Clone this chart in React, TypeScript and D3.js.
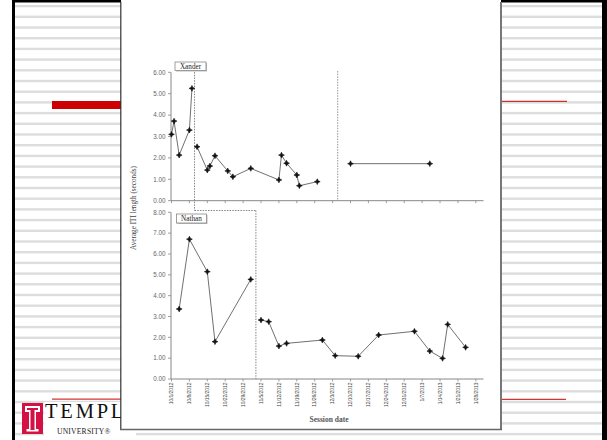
import React from "react";
import * as d3 from "d3";

const tickLabels = ["10/1/2012","10/8/2012","10/15/2012","10/22/2012","10/29/2012","11/5/2012","11/12/2012","11/19/2012","11/26/2012","12/3/2012","12/10/2012","12/17/2012","12/24/2012","12/31/2012","1/7/2013","1/14/2013","1/21/2013","1/28/2013"];

const xanderBaselineDates = ["10/1/2012","10/2/2012","10/4/2012","10/8/2012","10/9/2012"];
const xanderBaselineValues = [3.10,3.72,2.13,3.30,5.25];
const xanderInterventionDates = ["10/11/2012","10/15/2012","10/16/2012","10/18/2012","10/23/2012","10/25/2012","11/1/2012","11/12/2012","11/13/2012","11/15/2012","11/19/2012","11/20/2012","11/27/2012"];
const xanderInterventionValues = [2.52,1.43,1.62,2.10,1.39,1.12,1.51,0.97,2.13,1.75,1.20,0.70,0.89];
const xanderFollowupDates = ["12/10/2012","1/10/2013"];
const xanderFollowupValues = [1.73,1.73];

const nathanBaselineDates = ["10/4/2012","10/8/2012","10/15/2012","10/18/2012","11/1/2012"];
const nathanBaselineValues = [3.36,6.71,5.15,1.79,4.78];
const nathanInterventionDates = ["11/5/2012","11/8/2012","11/12/2012","11/15/2012","11/29/2012","12/4/2012","12/13/2012","12/21/2012","1/4/2013","1/10/2013","1/15/2013","1/17/2013","1/24/2013"];
const nathanInterventionValues = [2.83,2.75,1.58,1.71,1.87,1.12,1.09,2.11,2.29,1.34,0.99,2.62,1.52];

const xanderPhaseDates = ["10/10/2012","12/5/2012"];
const nathanPhaseDates = ["11/3/2012"];

const topTicks = [0,1,2,3,4,5,6];
const botTicks = [0,1,2,3,4,5,6,7,8];

const parse = d3.timeParse("%m/%d/%Y");
const fmt = d3.format(".2f");

const x = d3.scaleTime().domain([parse("10/1/2012")!, parse("1/31/2013")!]).range([171.5, 483.5]);
const yTop = d3.scaleLinear().domain([0, 6]).range([200.7, 72.3]);
const yBot = d3.scaleLinear().domain([0, 8]).range([379, 212.3]);

const star = (() => {
  const pts: [number, number][] = [];
  for (let i = 0; i < 8; i++) {
    const a = (Math.PI / 4) * i - Math.PI / 2;
    const r = i % 2 === 0 ? 2.9 : 1.3;
    pts.push([Math.cos(a) * r, Math.sin(a) * r]);
  }
  return "M" + pts.map((p) => p.join(",")).join("L") + "Z";
})();

function Series({ dates, values, y }: { dates: string[]; values: number[]; y: d3.ScaleLinear<number, number> }) {
  const pts = dates.map((d, i) => [x(parse(d)!), y(values[i])] as [number, number]);
  const line = d3.line();
  return (
    <g>
      <path d={line(pts) || ""} fill="none" stroke="#606060" strokeWidth={0.9} />
      {pts.map((p, i) => (
        <path key={i} d={star} transform={`translate(${p[0]},${p[1]})`} fill="#111" stroke="#111" strokeWidth={0.6} />
      ))}
    </g>
  );
}

function YAxis({ y, ticks }: { y: d3.ScaleLinear<number, number>; ticks: number[] }) {
  const [r0, r1] = y.range();
  return (
    <g>
      <line x1={171} x2={171} y1={r0} y2={r1} stroke="#888" strokeWidth={1} />
      {ticks.map((t) => (
        <g key={t}>
          <line x1={168} x2={171} y1={y(t)} y2={y(t)} stroke="#888" strokeWidth={0.8} />
          <text x={165.5} y={y(t)} dy="0.35em" textAnchor="end" fontSize={6.3} fill="#666" fontFamily="Liberation Sans, Arial, sans-serif">{fmt(t)}</text>
        </g>
      ))}
    </g>
  );
}

function XAxis({ y0, labels }: { y0: number; labels: boolean }) {
  return (
    <g>
      <line x1={171} x2={483.5} y1={y0} y2={y0} stroke="#888" strokeWidth={1} />
      {tickLabels.map((t) => {
        const xx = x(parse(t)!);
        return (
          <g key={t}>
            <line x1={xx} x2={xx} y1={y0} y2={y0 + 2.5} stroke="#888" strokeWidth={0.8} />
            {labels && (
              <text transform={`translate(${xx},${y0 + 3.5}) rotate(-90)`} dy="0.35em" textAnchor="end" fontSize={4.9} fill="#444" fontFamily="Liberation Sans, Arial, sans-serif">{t}</text>
            )}
          </g>
        );
      })}
    </g>
  );
}

export default function App() {
  const stripes = d3.range(0, 41).map((k) => 6.1 + 10.7 * k);
  const px1 = x(parse(xanderPhaseDates[0])!);
  const px2 = x(parse(xanderPhaseDates[1])!);
  const pn = x(parse(nathanPhaseDates[0])!);
  return (
    <svg width={607} height={440} style={{ position: "absolute", left: 0, top: 0, background: "#fff" }}>
      {/* slide background */}
      <rect x={0} y={0} width={607} height={440} fill="#fff" />
      {stripes.map((s, i) => (
        <rect key={i} x={15} y={s - 1.2} width={587} height={2.4} fill="#dddddd" />
      ))}
      <rect x={12} y={0} width={595} height={2.5} fill="#000" />
      <rect x={12} y={0} width={3} height={440} fill="#000" />
      <rect x={602} y={0} width={5} height={440} fill="#000" />
      {/* red decorations */}
      <rect x={52} y={101} width={70} height={8} fill="#cc0000" />
      <rect x={52} y={398.6} width={70} height={1} fill="#cc0000" />
      <rect x={500} y={100.8} width={67} height={1} fill="#cc0000" />
      <rect x={500} y={398.8} width={66} height={1} fill="#cc0000" />
      {/* logo */}
      <rect x={44} y={402} width={92} height={36} fill="#fff" />
      <rect x={22} y={403} width={21} height={31} fill="#d31145" />
      <path d="M25,406 H40 V412 H36 V429 H38.5 V431.5 H26.5 V429 H29 V412 H25 Z" fill="#fff" />
      <path d="M27,408 H38 V410 H34.5 V430 H30.5 V410 H27 Z" fill="#d31145" />
      <text x={45} y={418} fontSize={20.5} letterSpacing={2.8} fontFamily="Liberation Serif, Times New Roman, serif" fill="#111">TEMPLE</text>
      <text x={57} y={434} fontSize={7.6} fontFamily="Liberation Serif, Times New Roman, serif" fill="#222" letterSpacing={0.2}>UNIVERSITY®</text>
      {/* white panel */}
      <rect x={121} y={0} width={380} height={429} fill="#fff" />
      <line x1={120.8} x2={120.8} y1={2} y2={429.5} stroke="#333" strokeWidth={1.2} />
      <line x1={501} x2={501} y1={2} y2={430} stroke="#777" strokeWidth={2} />
      <line x1={120} x2={502} y1={429.5} y2={429.5} stroke="#666" strokeWidth={1.3} />

      {/* Y title */}
      <text transform="translate(133,208) rotate(-90)" textAnchor="middle" dy="0.35em" fontSize={7.2} fill="#444" fontFamily="Liberation Serif, Times New Roman, serif">Average ITI length (seconds)</text>

      {/* top chart */}
      <YAxis y={yTop} ticks={topTicks} />
      <XAxis y0={yTop(0)} labels={false} />
      <line x1={px1} x2={px1} y1={64} y2={210.5} stroke="#777" strokeWidth={0.9} strokeDasharray="1.5,1.2" />
      <line x1={px1} x2={pn} y1={210.5} y2={210.5} stroke="#777" strokeWidth={0.9} strokeDasharray="1.5,1.2" />
      <line x1={pn} x2={pn} y1={210.5} y2={379} stroke="#777" strokeWidth={0.9} strokeDasharray="1.5,1.2" />
      <line x1={px2} x2={px2} y1={71} y2={200.7} stroke="#888" strokeWidth={0.9} strokeDasharray="1.5,1.2" />
      <Series dates={xanderBaselineDates} values={xanderBaselineValues} y={yTop} />
      <Series dates={xanderInterventionDates} values={xanderInterventionValues} y={yTop} />
      <Series dates={xanderFollowupDates} values={xanderFollowupValues} y={yTop} />
      <rect x={176} y={63} width={31} height={8.5} fill="#bbb" />
      <rect x={175} y={62} width={31} height={8.5} fill="#fff" stroke="#888" strokeWidth={0.8} />
      <text x={190.5} y={66.4} dy="0.35em" textAnchor="middle" fontSize={7.2} fill="#222" fontFamily="Liberation Serif, Times New Roman, serif">Xander</text>

      {/* bottom chart */}
      <YAxis y={yBot} ticks={botTicks} />
      <XAxis y0={yBot(0)} labels={true} />
      <Series dates={nathanBaselineDates} values={nathanBaselineValues} y={yBot} />
      <Series dates={nathanInterventionDates} values={nathanInterventionValues} y={yBot} />
      <rect x={177.5} y={215} width={30} height={9} fill="#bbb" />
      <rect x={176.5} y={214} width={30} height={9} fill="#fff" stroke="#888" strokeWidth={0.8} />
      <text x={191.5} y={218.6} dy="0.35em" textAnchor="middle" fontSize={7.2} fill="#222" fontFamily="Liberation Serif, Times New Roman, serif">Nathan</text>

      <text x={329} y={419} dy="0.35em" textAnchor="middle" fontSize={7.5} fontWeight="bold" fill="#555" fontFamily="Liberation Serif, Times New Roman, serif">Session date</text>
    </svg>
  );
}
